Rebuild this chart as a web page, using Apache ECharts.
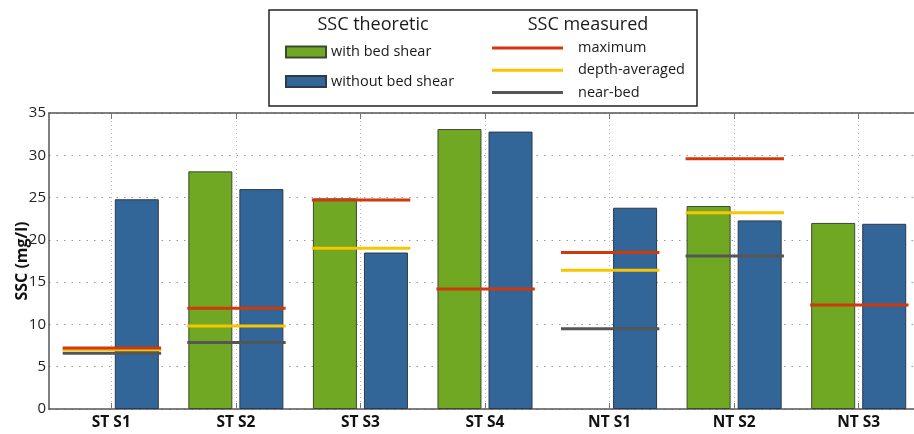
<!DOCTYPE html>
<html>
<head>
<meta charset="utf-8">
<script src="https://cdn.jsdelivr.net/npm/echarts@6/dist/echarts.min.js"></script>
<style>
  html, body { margin: 0; padding: 0; background: #fff; }
  #chart { width: 914px; height: 434px; }
</style>
</head>
<body>
<div id="chart"></div>
<script>
// Stations along the transect
const categories = ['ST S1', 'ST S2', 'ST S3', 'ST S4', 'NT S1', 'NT S2', 'NT S3'];

// Theoretical SSC (mg/l)
const withBedShear    = [null, 28.1, 24.9, 33.1, null, 24.0, 22.0];
const withoutBedShear = [24.8, 26.0, 18.5, 32.8, 23.8, 22.3, 21.9];

// Measured SSC (mg/l)
const measuredMax     = [7.2, 11.9, 24.7, 14.2, 18.5, 29.6, 12.3];
const measuredAverage = [7.0, 9.8, 19.0, null, 16.4, 23.2, null];
const measuredNearBed = [6.6, 7.85, null, null, 9.5, 18.1, null];

const yTicks = { min: 0, max: 35, step: 5 };

const FONT = 'Open Sans';
const GREEN = '#70a824';
const BLUE = '#326598';
const RED = '#d0390c';
const YELLOW = '#f7c600';
const GRAY = '#555555';

// Horizontal segment spanning both bars of a category
function segmentSeries(name, values, color) {
  const data = [];
  values.forEach((v, i) => { if (v !== null) data.push([i, v]); });
  return {
    name: name,
    type: 'custom',
    xAxisIndex: 0,
    yAxisIndex: 0,
    itemStyle: { color: color },
    z: 5,
    data: data,
    renderItem: function (params, api) {
      const p = api.coord([api.value(0), api.value(1)]);
      const band = api.size([1, 0])[0];
      return {
        type: 'line',
        shape: { x1: p[0] - band * 0.39, y1: p[1], x2: p[0] + band * 0.40, y2: p[1] },
        style: { stroke: color, lineWidth: 3 }
      };
    }
  };
}

const chart = echarts.init(document.getElementById('chart'), null, { renderer: 'canvas' });

chart.setOption({
  animation: false,
  backgroundColor: '#ffffff',
  textStyle: { fontFamily: FONT },
  grid: { left: 49, right: -7, top: 113, bottom: 25, containLabel: false, outerBoundsMode: 'none' },
  legend: [
    {
      data: ['with bed shear', 'without bed shear'].map(n => ({ name: n, icon: 'rect' })),
      orient: 'vertical',
      left: 285,
      top: 44,
      padding: 0,
      itemWidth: 40,
      itemHeight: 11,
      itemGap: 13.5,
      selectedMode: false,
      textStyle: { fontFamily: FONT, fontSize: 14.5, color: '#1a1a1a', lineHeight: 16 }
    },
    {
      data: ['maximum', 'depth-averaged', 'near-bed'].map(n => ({ name: n, icon: 'rect' })),
      orient: 'vertical',
      left: 492,
      top: 40,
      padding: 0,
      itemWidth: 71,
      itemHeight: 3,
      itemGap: 6.2,
      selectedMode: false,
      textStyle: { fontFamily: FONT, fontSize: 14.5, color: '#1a1a1a', lineHeight: 16, padding: [0, 0, 0, 10] }
    }
  ],
  graphic: [
    {
      type: 'rect',
      shape: { x: 269, y: 10, width: 428, height: 96 },
      style: { fill: 'none', stroke: '#222', lineWidth: 1.5 },
      z: 10
    },
    {
      type: 'text',
      x: 373, y: 25,
      style: { text: 'SSC theoretic', fontFamily: FONT, fontSize: 18, fill: '#1a1a1a', align: 'center', verticalAlign: 'middle' },
      z: 10
    },
    {
      type: 'text',
      x: 588, y: 25,
      style: { text: 'SSC measured', fontFamily: FONT, fontSize: 18, fill: '#1a1a1a', align: 'center', verticalAlign: 'middle' },
      z: 10
    }
  ],
  xAxis: [
    {
      type: 'category',
      data: categories,
      position: 'bottom',
      axisLine: { show: true, lineStyle: { color: '#555', width: 1.5 } },
      axisTick: { show: true, inside: true, alignWithLabel: true, length: 6, lineStyle: { color: '#777' } },
      axisLabel: { fontFamily: FONT, fontSize: 15.5, fontWeight: 'bold', color: '#111', margin: 6 },
      splitLine: { show: true, alignWithLabel: true, lineStyle: { color: '#bbbbbb', type: [1, 3], width: 1 } }
    },
    {
      type: 'category',
      data: categories,
      position: 'top',
      axisLine: { show: true, lineStyle: { color: '#555', width: 1.5 } },
      axisTick: { show: true, inside: true, alignWithLabel: true, length: 6, lineStyle: { color: '#777' } },
      axisLabel: { show: false },
      splitLine: { show: false }
    }
  ],
  yAxis: {
    type: 'value',
    min: yTicks.min,
    max: yTicks.max,
    interval: yTicks.step,
    name: 'SSC (mg/l)',
    nameLocation: 'middle',
    nameGap: 19,
    nameMoveOverlap: false,
    nameTextStyle: { fontFamily: FONT, fontSize: 16, fontWeight: 'bold', color: '#111' },
    axisLine: { show: true, lineStyle: { color: '#555', width: 1.5 } },
    axisTick: { show: false },
    axisLabel: { fontFamily: FONT, fontSize: 15, color: '#222', margin: 3 },
    splitLine: { show: true, lineStyle: { color: '#999999', type: [1.5, 6], width: 1 } }
  },
  series: [
    {
      name: 'with bed shear',
      type: 'bar',
      data: withBedShear,
      barWidth: 44,
      barGap: '16%',
      itemStyle: { color: GREEN, borderColor: '#3c4a30', borderWidth: 1 },
      z: 3
    },
    {
      name: 'without bed shear',
      type: 'bar',
      data: withoutBedShear,
      barWidth: 44,
      barGap: '16%',
      itemStyle: { color: BLUE, borderColor: '#2c3a4c', borderWidth: 1 },
      z: 3
    },
    segmentSeries('near-bed', measuredNearBed, GRAY),
    segmentSeries('depth-averaged', measuredAverage, YELLOW),
    segmentSeries('maximum', measuredMax, RED)
  ]
});
</script>
</body>
</html>
